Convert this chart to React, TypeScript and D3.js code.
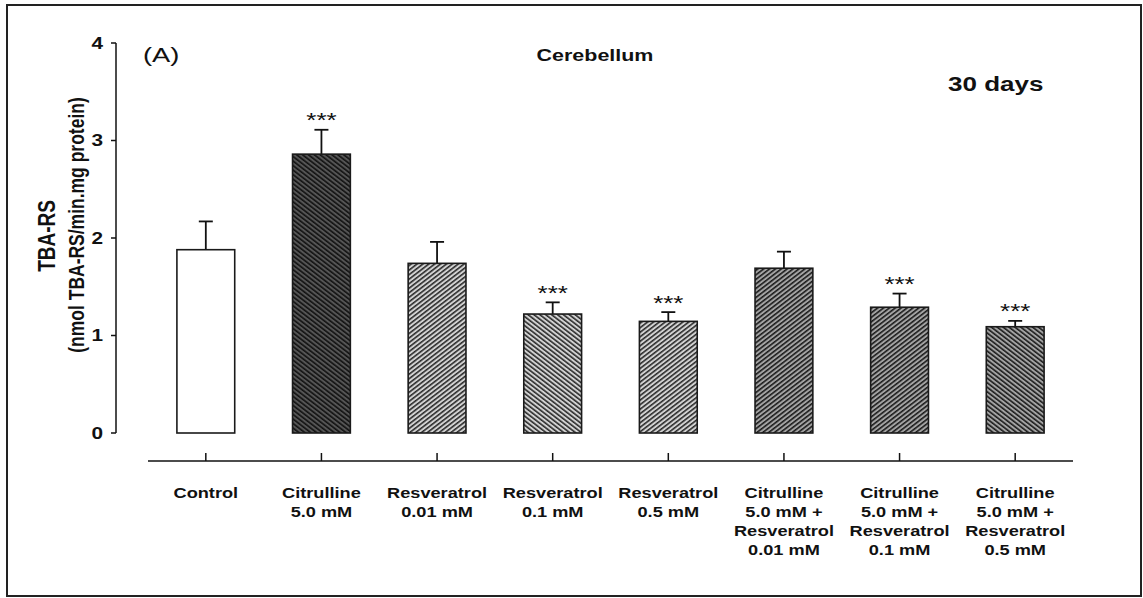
import React from "react";
import * as d3 from "d3";

const categories = [
  "Control",
  "Citrulline 5.0 mM",
  "Resveratrol 0.01 mM",
  "Resveratrol 0.1 mM",
  "Resveratrol 0.5 mM",
  "Citrulline 5.0 mM + Resveratrol 0.01 mM",
  "Citrulline 5.0 mM + Resveratrol 0.1 mM",
  "Citrulline 5.0 mM + Resveratrol 0.5 mM",
];
const labelLines = [
  ["Control"],
  ["Citrulline", "5.0 mM"],
  ["Resveratrol", "0.01 mM"],
  ["Resveratrol", "0.1 mM"],
  ["Resveratrol", "0.5 mM"],
  ["Citrulline", "5.0 mM +", "Resveratrol", "0.01 mM"],
  ["Citrulline", "5.0 mM +", "Resveratrol", "0.1 mM"],
  ["Citrulline", "5.0 mM +", "Resveratrol", "0.5 mM"],
];
const means = [1.88, 2.86, 1.74, 1.22, 1.145, 1.69, 1.29, 1.09];
const sems = [0.29, 0.25, 0.22, 0.12, 0.095, 0.17, 0.14, 0.06];
const significant = [false, true, false, true, true, false, true, true];
const fills = ["white", "dark-back", "light-fwd", "light-back", "light-fwd", "mid-fwd", "mid-fwd", "mid-back"];
const yTicks = [0, 1, 2, 3, 4];

const W = 1143;
const H = 598;
const SX = 1.3;
const FONT = "'Liberation Sans', Arial, Helvetica, sans-serif";

function T({ x, y, anchor = "start", size, weight = "bold", children, dy }: any) {
  return (
    <text
      transform={`translate(${x},${y}) scale(${SX},1)`}
      textAnchor={anchor}
      fontFamily={FONT}
      fontSize={size}
      fontWeight={weight}
      dy={dy}
      fill="#111"
    >
      {children}
    </text>
  );
}

const patternDefs = [
  { id: "dark-back", bg: "#555", line: "#111", rot: -45 },
  { id: "light-fwd", bg: "#d2d2d2", line: "#2a2a2a", rot: 45 },
  { id: "light-back", bg: "#d2d2d2", line: "#2a2a2a", rot: -45 },
  { id: "mid-fwd", bg: "#a3a3a3", line: "#1a1a1a", rot: 45 },
  { id: "mid-back", bg: "#a3a3a3", line: "#1a1a1a", rot: -45 },
];

export default function App() {
  const x = d3.scaleBand<string>().domain(categories).range([148, 1073]).paddingInner(0.5).paddingOuter(0.25);
  const y = d3.scaleLinear().domain([0, 4]).range([433, 43]);
  const axisX = 116;
  const xAxisY = 461;

  return (
    <svg width={W} height={H} style={{ position: "absolute", left: 0, top: 0, background: "white" }}>
      <defs>
        {patternDefs.map((p) => (
          <pattern
            key={p.id}
            id={p.id}
            patternUnits="userSpaceOnUse"
            width={3.2}
            height={3.2}
            patternTransform={`scale(${SX},1) rotate(${p.rot})`}
          >
            <rect width={3.2} height={3.2} fill={p.bg} />
            <line x1={0.7} y1={-1} x2={0.7} y2={5} stroke={p.line} strokeWidth={1.4} />
          </pattern>
        ))}
      </defs>
      <rect x={7} y={5} width={1134} height={591} fill="none" stroke="#222" strokeWidth={2} />

      {/* Y axis */}
      <line x1={axisX} x2={axisX} y1={y(4)} y2={y(0)} stroke="#111" strokeWidth={1.5} />
      {yTicks.map((t) => (
        <g key={t}>
          <line x1={axisX - 5} x2={axisX} y1={y(t)} y2={y(t)} stroke="#111" strokeWidth={1.5} />
          <T x={103} y={y(t)} anchor="end" size={16} dy="0.36em">
            {t}
          </T>
        </g>
      ))}

      {/* Y axis titles */}
      <text
        transform={`translate(55,236) scale(${SX},1) rotate(-90)`}
        textAnchor="middle"
        fontFamily={FONT}
        fontSize={19}
        fontWeight="bold"
        fill="#111"
      >
        TBA-RS
      </text>
      <text
        transform={`translate(84,225) scale(${SX},1) rotate(-90)`}
        textAnchor="middle"
        fontFamily={FONT}
        fontSize={17.5}
        fontWeight="bold"
        fill="#111"
      >
        (nmol TBA-RS/min.mg protein)
      </text>

      {/* X axis */}
      <line x1={148} x2={1073} y1={xAxisY} y2={xAxisY} stroke="#111" strokeWidth={1.5} />
      {categories.map((c) => {
        const cx = (x(c) as number) + x.bandwidth() / 2;
        return <line key={c} x1={cx} x2={cx} y1={xAxisY} y2={xAxisY - 8} stroke="#111" strokeWidth={1.5} />;
      })}

      {/* Bars */}
      {categories.map((c, i) => {
        const bx = x(c) as number;
        const bw = x.bandwidth();
        const cx = bx + bw / 2;
        const top = y(means[i]);
        const errTop = y(means[i] + sems[i]);
        const fill = fills[i] === "white" ? "white" : `url(#${fills[i]})`;
        return (
          <g key={c}>
            <line x1={cx} x2={cx} y1={top} y2={errTop} stroke="#111" strokeWidth={1.8} />
            <line x1={cx - 7} x2={cx + 7} y1={errTop} y2={errTop} stroke="#111" strokeWidth={1.8} />
            <rect x={bx} y={top} width={bw} height={y(0) - top} fill={fill} stroke="#1a1a1a" strokeWidth={1.6} />
            {significant[i] && (
              <T x={cx} y={errTop - 2.5} anchor="middle" size={20} weight="normal">
                ***
              </T>
            )}
          </g>
        );
      })}

      {/* Category labels */}
      {categories.map((c, i) => {
        const cx = (x(c) as number) + x.bandwidth() / 2;
        return (
          <g key={c}>
            {labelLines[i].map((ln, j) => (
              <T key={j} x={cx} y={498 + j * 19} anchor="middle" size={14}>
                {ln}
              </T>
            ))}
          </g>
        );
      })}

      {/* Titles */}
      <T x={143} y={62} size={21} weight="normal">
        (A)
      </T>
      <T x={595} y={61} anchor="middle" size={16.5}>
        Cerebellum
      </T>
      <T x={948} y={91} size={20}>
        30 days
      </T>
    </svg>
  );
}
